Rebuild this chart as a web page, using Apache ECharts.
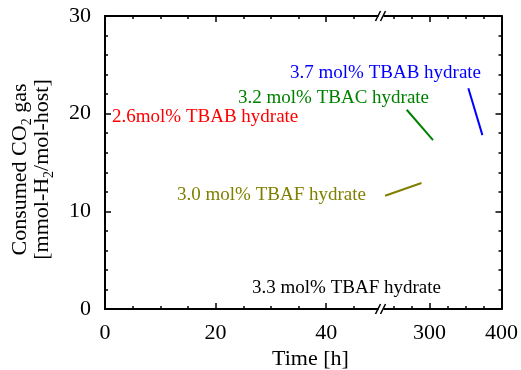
<!DOCTYPE html>
<html>
<head>
<meta charset="utf-8">
<script src="https://cdn.jsdelivr.net/npm/echarts@6.0.0/dist/echarts.min.js"></script>
<style>
  html, body { margin: 0; padding: 0; background: #fff; }
  #chart { width: 521px; height: 370px; }
</style>
</head>
<body>
<div id="chart"></div>
<script>
// broken time axis: 0-50 h on the left, ~233-400 h on the right
const leftXLabels = [0, 20, 40];
const leftXMajor = [0, 20, 40];
const leftXMinor = [5, 10, 15, 25, 30, 35, 45];
const rightXLabels = [300, 400];
const rightXMajor = [300];
const rightXMinor = [250, 275, 325, 350, 375];

// consumed CO2 segments [time h, mmol/mol]
const tbab37 = [[354, 22.6], [373.5, 17.8]];
const tbac32 = [[268.5, 20.4], [305, 17.3]];
const tbaf30 = [[238.5, 11.6], [289, 12.9]];

const seriesNames = [
  '3.7 mol% TBAB hydrate',
  '3.2 mol% TBAC hydrate',
  '2.6mol% TBAB hydrate',
  '3.0 mol% TBAF hydrate',
  '3.3 mol% TBAF hydrate',
];
const seriesColors = ['#0000ff', '#008000', '#ff0000', '#808000', '#000000'];

const FONT = 'Liberation Serif';
const chart = echarts.init(document.getElementById('chart'));

function xAxisOf(grid, min, max, pos, ticks, len, labels) {
  return {
    type: 'value',
    gridIndex: grid,
    min: min,
    max: max,
    position: pos,
    axisLine: { show: true, onZero: false, lineStyle: { color: '#000', width: 2 } },
    axisTick: { show: true, inside: true, length: len, customValues: ticks, lineStyle: { color: '#000', width: 1.5 } },
    axisLabel: labels
      ? { show: true, customValues: labels, fontSize: 22, fontFamily: FONT, color: '#000', margin: 13 }
      : { show: false },
    splitLine: { show: false },
  };
}

function yAxisOf(grid, pos, withLabels) {
  return {
    type: 'value',
    gridIndex: grid,
    min: 0,
    max: 30,
    interval: 10,
    position: pos,
    axisLine: { show: true, onZero: false, lineStyle: { color: '#000', width: 2 } },
    axisTick: { show: true, inside: true, length: 6, lineStyle: { color: '#000', width: 1.5 } },
    minorTick: { show: true, splitNumber: 5, length: 3, lineStyle: { color: '#000', width: 1.5 } },
    axisLabel: withLabels
      ? { show: true, fontSize: 22, fontFamily: FONT, color: '#000', margin: 14 }
      : { show: false },
    splitLine: { show: false },
    minorSplitLine: { show: false },
  };
}

const yName = yAxisOf(0, 'left', true);
yName.name = '{a|Consumed CO}{s|2}{a| gas}\n{a|[mmol-H}{s|2}{a|/mol-host]}';
yName.nameLocation = 'middle';
yName.nameGap = 52;
yName.nameTextStyle = {
  lineHeight: 22,
  padding: [0, 14, 0, 0],
  rich: {
    a: { fontSize: 22, fontFamily: FONT, color: '#000', lineHeight: 22 },
    s: { fontSize: 14, fontFamily: FONT, color: '#000', verticalAlign: 'bottom', lineHeight: 14, padding: [0, 0, -3, 0] },
  },
};

function segment(data, color) {
  return {
    type: 'line',
    xAxisIndex: 4,
    yAxisIndex: 1,
    data: data,
    showSymbol: false,
    silent: true,
    lineStyle: { color: color, width: 2 },
  };
}

function breakMark(y) {
  return [
    { type: 'rect', z: 100, shape: { x: 378.5, y: y - 2, width: 5, height: 4 }, style: { fill: '#fff' } },
    { type: 'line', z: 101, shape: { x1: 375.5, y1: y + 5, x2: 380.5, y2: y - 5 }, style: { stroke: '#000', lineWidth: 1.5 } },
    { type: 'line', z: 101, shape: { x1: 380.5, y1: y + 5, x2: 385.5, y2: y - 5 }, style: { stroke: '#000', lineWidth: 1.5 } },
  ];
}

// label anchors (left x, middle y) in pixels
const labelPos = [[290, 73], [238, 98], [112, 117], [177, 195], [252, 288]];
const labelEls = seriesNames.map((name, i) => ({
  type: 'text',
  z: 100,
  x: labelPos[i][0],
  y: labelPos[i][1],
  style: {
    text: name,
    fill: seriesColors[i],
    fontSize: 19,
    fontFamily: FONT,
    verticalAlign: 'middle',
  },
}));

chart.setOption({
  animation: false,
  backgroundColor: '#fff',
  grid: [
    { left: 105, right: 139.5, top: 16, bottom: 61 },
    { left: 381.5, right: 17.5, top: 16, bottom: 61 },
  ],
  xAxis: [
    xAxisOf(0, 0, 50, 'bottom', leftXMajor, 6, leftXLabels),
    xAxisOf(0, 0, 50, 'bottom', leftXMinor, 3, null),
    xAxisOf(0, 0, 50, 'top', leftXMajor, 6, null),
    xAxisOf(0, 0, 50, 'top', leftXMinor, 3, null),
    xAxisOf(1, 233.5, 400, 'bottom', rightXMajor, 6, rightXLabels),
    xAxisOf(1, 233.5, 400, 'bottom', rightXMinor, 3, null),
    xAxisOf(1, 233.5, 400, 'top', rightXMajor, 6, null),
    xAxisOf(1, 233.5, 400, 'top', rightXMinor, 3, null),
  ],
  yAxis: [
    yName,
    yAxisOf(1, 'right', false),
  ],
  graphic: [
    ...breakMark(309),
    ...breakMark(16),
    ...labelEls,
    {
      type: 'text',
      z: 100,
      x: 310.5,
      y: 359,
      style: { text: 'Time [h]', fill: '#000', fontSize: 22, fontFamily: FONT, align: 'center', verticalAlign: 'middle' },
    },
  ],
  series: [
    segment(tbab37, seriesColors[0]),
    segment(tbac32, seriesColors[1]),
    segment(tbaf30, seriesColors[3]),
  ],
});
</script>
</body>
</html>
